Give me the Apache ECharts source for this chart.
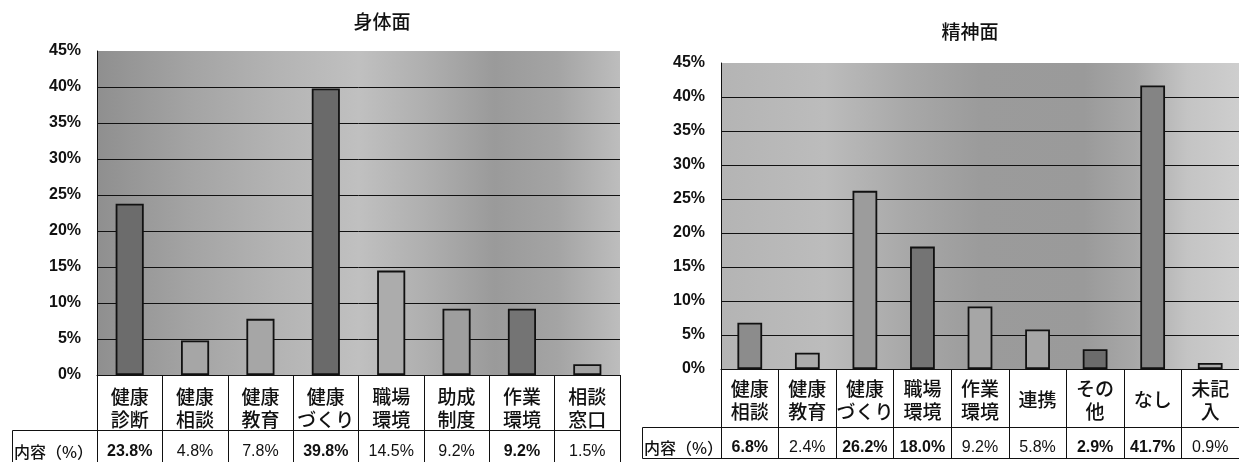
<!DOCTYPE html>
<html>
<head>
<meta charset="utf-8">
<script src="https://cdn.jsdelivr.net/npm/echarts@6/dist/echarts.min.js"></script>
<style>
  html, body { margin: 0; padding: 0; background: #fff; }
  #chart { width: 1239px; height: 462px; }
</style>
</head>
<body>
<div id="chart"></div>
<script>
// 身体面
const bodyCategories = ['健康\n診断', '健康\n相談', '健康\n教育', '健康\nづくり', '職場\n環境', '助成\n制度', '作業\n環境', '相談\n窓口'];
const bodyValues = [23.8, 4.8, 7.8, 39.8, 14.5, 9.2, 9.2, 1.5];

// 精神面
const mindCategories = ['健康\n相談', '健康\n教育', '健康\nづくり', '職場\n環境', '作業\n環境', '連携', 'その\n他', 'なし', '未記\n入'];
const mindValues = [6.8, 2.4, 26.2, 18.0, 9.2, 5.8, 2.9, 41.7, 0.9];

// value axis ticks (percent)
const yTickLabels = ['0%', '5%', '10%', '15%', '20%', '25%', '30%', '35%', '40%', '45%'];
const yMax = 45;
const yStep = 5;

const rowLabel = '内容（%）';

// ---- styling (kept apart from the data) ----
const bodyShades = ['#6c6c6c', '#a6a6a6', '#a6a6a6', '#6a6a6a', '#acacac', '#9e9e9e', '#747474', '#a2a2a2'];
const bodyBold = [true, false, false, true, false, false, true, false];
const mindShades = ['#8c8c8c', '#acacac', '#9c9c9c', '#747474', '#a6a6a6', '#a6a6a6', '#6c6c6c', '#848484', '#acacac'];
const mindBold = [true, false, true, true, false, false, true, true, false];

const LATIN = "'Liberation Sans', 'Noto Sans CJK JP', sans-serif";
const CJK = "'Noto Sans CJK JP', sans-serif";

const bodyBg = [[0, '#8f8f8f'], [0.18, '#a4a4a4'], [0.35, '#b4b4b4'], [0.5, '#c0c0c0'], [0.62, '#b0b0b0'], [0.76, '#9a9a9a'], [0.88, '#a4a4a4'], [1, '#bdbdbd']];
const mindBg = [[0, '#b4b4b4'], [0.2, '#bcbcbc'], [0.36, '#a8a8a8'], [0.5, '#9b9b9b'], [0.7, '#9a9a9a'], [0.8, '#a8a8a8'], [0.9, '#c4c4c4'], [1, '#cecece']];

const panels = [
  { title: '身体面', categories: bodyCategories, values: bodyValues, shades: bodyShades, bold: bodyBold, bg: bodyBg,
    left: 97, top: 51, width: 523, height: 324, headerH: 55, rowH: 36, labelLeft: 12,
    titleX: 382, titleY: 22, catMargin: 33, valMargin: 22 },
  { title: '精神面', categories: mindCategories, values: mindValues, shades: mindShades, bold: mindBold, bg: mindBg,
    left: 721, top: 63, width: 519, height: 306, headerH: 58, rowH: 31, labelLeft: 642,
    titleX: 970, titleY: 32, catMargin: 31, valMargin: 21 }
];

const grid = [], xAxis = [], yAxis = [], series = [], graphic = [];

panels.forEach((p, i) => {
  grid.push({
    left: p.left, top: p.top, width: p.width, height: p.height,
    show: true, borderWidth: 0,
    backgroundColor: { type: 'linear', x: 0, y: 0, x2: 1, y2: 0,
      colorStops: p.bg.map(s => ({ offset: s[0], color: s[1] })) }
  });

  // no rule along the top edge of the plot
  const gridLineColors = yTickLabels.map((_, k) => k === yTickLabels.length - 1 ? 'rgba(0,0,0,0)' : '#111');

  yAxis.push({
    type: 'value', gridIndex: i, min: 0, max: yMax, interval: yStep,
    axisLine: { show: true, lineStyle: { color: '#111', width: 1 } },
    axisTick: { show: false },
    splitLine: { show: true, lineStyle: { color: gridLineColors, width: 1 } },
    axisLabel: {
      margin: 16, color: '#111', fontFamily: LATIN, fontSize: 16, fontWeight: 'bold',
      formatter: (v) => yTickLabels[Math.round(v / yStep)]
    }
  });

  // category header row of the table
  xAxis.push({
    type: 'category', gridIndex: i, data: p.categories, position: 'bottom',
    axisLine: { show: true, lineStyle: { color: '#111', width: 1 } },
    axisTick: { show: true, length: p.headerH, lineStyle: { color: '#111', width: 1 } },
    axisLabel: {
      interval: 0, margin: p.catMargin, verticalAlign: 'middle', lineHeight: 23,
      color: '#111', fontFamily: CJK, fontSize: 19, fontWeight: 500
    }
  });

  // value row of the table
  xAxis.push({
    type: 'category', gridIndex: i, data: p.categories, position: 'bottom', offset: p.headerH,
    axisLine: { show: true, lineStyle: { color: '#111', width: 1 } },
    axisTick: { show: true, length: p.rowH, lineStyle: { color: '#111', width: 1 } },
    axisLabel: {
      interval: 0, margin: p.valMargin, verticalAlign: 'middle',
      formatter: (v, idx) => `{${p.bold[idx] ? 'b' : 'n'}|${p.values[idx].toFixed(1)}%}`,
      rich: {
        b: { fontFamily: LATIN, fontSize: 16, fontWeight: 'bold', color: '#111' },
        n: { fontFamily: LATIN, fontSize: 16, color: '#111' }
      }
    }
  });

  // bottom edge of the table
  xAxis.push({
    type: 'category', gridIndex: i, data: p.categories, position: 'bottom', offset: p.headerH + p.rowH,
    axisLine: { show: true, lineStyle: { color: '#111', width: 1 } },
    axisTick: { show: false }, axisLabel: { show: false }
  });

  series.push({
    type: 'bar', xAxisIndex: i * 3, yAxisIndex: i, barWidth: '43%',
    data: p.values.map((v, k) => ({ value: v, itemStyle: { color: p.shades[k] } })),
    itemStyle: { borderColor: '#111', borderWidth: 1.8 },
    animation: false
  });

  graphic.push({
    type: 'text', x: p.titleX, y: p.titleY,
    style: { text: p.title, fill: '#111', font: `500 19px ${CJK}`, align: 'center', verticalAlign: 'middle' }
  });

  // row header cell of the table
  const rowTop = p.top + p.height + p.headerH;
  graphic.push({
    type: 'rect',
    shape: { x: p.labelLeft + 0.5, y: rowTop + 0.5, width: p.left - p.labelLeft, height: p.rowH },
    style: { fill: '#fff', stroke: '#111', lineWidth: 1 }
  });
  graphic.push({
    type: 'text', x: p.labelLeft + 2, y: rowTop + p.valMargin,
    style: { text: rowLabel, fill: '#111', font: `500 16px ${CJK}`, align: 'left', verticalAlign: 'middle' }
  });
});

const chart = echarts.init(document.getElementById('chart'), null, { renderer: 'canvas' });
chart.setOption({
  backgroundColor: '#fff',
  animation: false,
  grid, xAxis, yAxis, series, graphic
});
</script>
</body>
</html>
